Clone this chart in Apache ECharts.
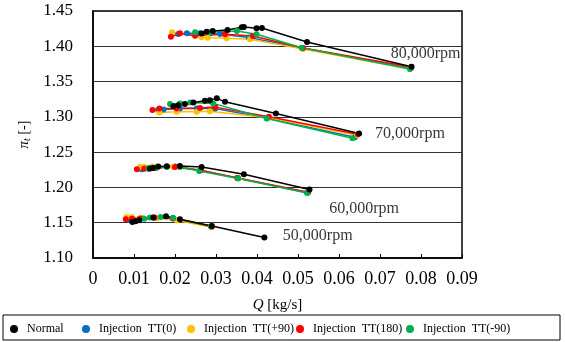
<!DOCTYPE html>
<html><head><meta charset="utf-8">
<script src="https://cdn.jsdelivr.net/npm/echarts@6/dist/echarts.min.js"></script>
<style>html,body{margin:0;padding:0;background:#fff;}#c{width:565px;height:342px;}</style>
</head><body><div id="c"></div>
<script>
const seriesNames = ['Normal', 'Injection TT(0)', 'Injection TT(+90)', 'Injection TT(180)', 'Injection TT(-90)'];
const seriesColors = ['#000000', '#0070C0', '#FFC000', '#FF0000', '#00B050'];
const xTicks = [0, 0.09, 0.01];
const yTicks = [1.10, 1.45, 0.05];

// [Q, pi_t] per speed group
const normal_80k = [[0.0265,1.418],[0.0277,1.4206],[0.0292,1.4216],[0.0328,1.423],[0.0363,1.4269],[0.0368,1.4273],[0.0399,1.4255],[0.0412,1.4259],[0.0522,1.406],[0.0777,1.371]];
const normal_70k = [[0.0196,1.3152],[0.0208,1.3166],[0.0224,1.3181],[0.0245,1.3205],[0.0273,1.3227],[0.0285,1.3237],[0.0302,1.3262],[0.0322,1.3213],[0.0446,1.3049],[0.0649,1.2765]];
const normal_60k = [[0.0139,1.2268],[0.0146,1.2277],[0.0159,1.2297],[0.018,1.2301],[0.0212,1.2305],[0.0265,1.2291],[0.0368,1.2188],[0.0528,1.1971]];
const normal_50k = [[0.0096,1.1511],[0.0104,1.1521],[0.0113,1.1535],[0.0147,1.1573],[0.0178,1.1592],[0.0212,1.155],[0.029,1.1454],[0.0418,1.129]];

const tt0_80k = [[0.0208,1.4174],[0.0229,1.4184],[0.0261,1.4184],[0.0285,1.418],[0.031,1.4175],[0.038,1.4125],[0.051,1.3975],[0.0775,1.369]];
const tt0_70k = [[0.0159,1.3096],[0.0172,1.3106],[0.0212,1.3117],[0.0253,1.312],[0.0298,1.312],[0.0424,1.2982],[0.0639,1.2712]];
const tt0_60k = [[0.0119,1.2259],[0.0135,1.2265],[0.0155,1.228],[0.02,1.2295],[0.0262,1.2245],[0.0352,1.2135],[0.0522,1.1925]];
const tt0_50k = [[0.009,1.1535],[0.0098,1.1545],[0.0115,1.1555],[0.015,1.157],[0.0195,1.156],[0.0288,1.1445]];

const ttp90_80k = [[0.0193,1.4198],[0.0265,1.4127],[0.028,1.4121],[0.0326,1.4113],[0.0383,1.4099],[0.0512,1.396],[0.0773,1.3677]];
const ttp90_70k = [[0.0162,1.3063],[0.0204,1.3071],[0.0253,1.3071],[0.0285,1.3081],[0.0427,1.2989],[0.0644,1.274]];
const ttp90_60k = [[0.0115,1.229],[0.0125,1.2293],[0.0145,1.2295],[0.0195,1.229],[0.026,1.224],[0.0355,1.213],[0.0524,1.1928]];
const ttp90_50k = [[0.0082,1.1582],[0.0095,1.158],[0.012,1.157],[0.0155,1.1565],[0.0205,1.153],[0.029,1.1435]];

const tt180_80k = [[0.019,1.4135],[0.0212,1.4184],[0.0249,1.415],[0.0322,1.417],[0.039,1.4145],[0.0512,1.3975],[0.0776,1.3706]];
const tt180_70k = [[0.0145,1.3096],[0.0162,1.312],[0.0204,1.3117],[0.0261,1.3124],[0.0298,1.3138],[0.0429,1.30],[0.0646,1.2755]];
const tt180_60k = [[0.0107,1.2259],[0.0125,1.2265],[0.015,1.2275],[0.02,1.229],[0.0262,1.2245],[0.0353,1.2135],[0.0525,1.1932]];
const tt180_50k = [[0.008,1.155],[0.0095,1.1555],[0.0115,1.156],[0.015,1.1575],[0.0195,1.1565],[0.0289,1.1445]];

const ttm90_80k = [[0.0249,1.4198],[0.0285,1.4198],[0.0351,1.4216],[0.0399,1.417],[0.0509,1.398],[0.0773,1.3677]];
const ttm90_70k = [[0.0188,1.3181],[0.0212,1.3191],[0.0237,1.3205],[0.0293,1.3191],[0.0424,1.2978],[0.0633,1.2698]];
const ttm90_60k = [[0.0135,1.227],[0.0155,1.2283],[0.018,1.229],[0.0212,1.229],[0.0259,1.2234],[0.0354,1.2127],[0.0523,1.1922]];
const ttm90_50k = [[0.0125,1.1555],[0.0139,1.1573],[0.0165,1.158],[0.0195,1.157],[0.0288,1.145]];

const rpmLabels = ['80,000rpm', '70,000rpm', '60,000rpm', '50,000rpm'];
const rpmLabelQ = [0.0726, 0.0688, 0.0576, 0.0463];
const rpmLabelPi = [1.3897, 1.2755, 1.1691, 1.1308];

const groupsBySeries = [
  [normal_80k, normal_70k, normal_60k, normal_50k],
  [tt0_80k, tt0_70k, tt0_60k, tt0_50k],
  [ttp90_80k, ttp90_70k, ttp90_60k, ttp90_50k],
  [tt180_80k, tt180_70k, tt180_60k, tt180_50k],
  [ttm90_80k, ttm90_70k, ttm90_60k, ttm90_50k]
];

const FONT = 'Liberation Serif';
const drawOrder = [1, 2, 3, 4, 0];
const series = [];
drawOrder.forEach(function (si) {
  groupsBySeries[si].forEach(function (g) {
    series.push({
      name: seriesNames[si], type: 'line', data: g,
      symbol: 'circle', symbolSize: 6, showSymbol: true,
      lineStyle: { width: 1.5, color: seriesColors[si] },
      itemStyle: { color: seriesColors[si] },
      emphasis: { disabled: true }, animation: false
    });
  });
});
series.push({
  name: 'rpm', type: 'scatter', symbolSize: 0, animation: false,
  data: rpmLabels.map(function (t, i) { return { value: [rpmLabelQ[i], rpmLabelPi[i]], name: t }; }),
  label: { show: true, position: 'right', distance: 0, formatter: '{b}', fontFamily: FONT, fontSize: 16, color: '#000' }
});

const legendLefts = [10, 82, 187, 296, 406];
const legends = seriesNames.map(function (n, i) {
  return {
    data: [n], left: legendLefts[i], top: 323, icon: 'circle',
    itemWidth: 16, itemHeight: 8, padding: 0,
    textStyle: { fontFamily: FONT, fontSize: 12, color: '#000' },
    formatter: function (s) { return s.replace(' ', '\u2002'); }
  };
});

const chart = echarts.init(document.getElementById('c'), null, { renderer: 'canvas' });
chart.setOption({
  animation: false,
  backgroundColor: '#fff',
  grid: { left: 93, top: 11, right: 103, bottom: 84, show: true, borderColor: '#000', borderWidth: 1.5 },
  legend: legends,
  graphic: [{ type: 'rect', shape: { x: 3, y: 315, width: 557, height: 25 }, style: { fill: 'none', stroke: '#000', lineWidth: 1 }, silent: true }],
  xAxis: {
    type: 'value', min: xTicks[0], max: xTicks[1], interval: xTicks[2],
    name: '{i|Q} [kg/s]', nameLocation: 'middle', nameGap: 40,
    nameTextStyle: { fontFamily: FONT, fontSize: 15, color: '#000', rich: { i: { fontFamily: FONT, fontSize: 15, fontStyle: 'italic', color: '#000' } } },
    axisLine: { show: true, lineStyle: { color: '#000', width: 1.5 } },
    axisTick: { show: true, inside: true, length: 4, lineStyle: { color: '#000' } },
    splitLine: { show: false },
    axisLabel: { fontFamily: FONT, fontSize: 18, color: '#000', margin: 12,
      formatter: function (v) { return v === 0 ? '0' : v.toFixed(2); } }
  },
  yAxis: {
    type: 'value', min: yTicks[0], max: yTicks[1], interval: yTicks[2],
    name: '{i|π}{s|t} [-]', nameLocation: 'middle', nameGap: 60,
    nameTextStyle: { fontFamily: FONT, fontSize: 14, color: '#000',
      rich: { i: { fontFamily: FONT, fontSize: 15, fontStyle: 'italic', color: '#000' },
              s: { fontFamily: FONT, fontSize: 10, fontStyle: 'italic', color: '#000', padding: [6, 0, 0, 0] } } },
    axisLine: { show: true, lineStyle: { color: '#000', width: 1.5 } },
    axisTick: { show: false },
    splitLine: { show: true, lineStyle: { color: '#333', width: 1 } },
    axisLabel: { fontFamily: FONT, fontSize: 17, color: '#000', margin: 20,
      formatter: function (v) { return v.toFixed(2); } }
  },
  series: series
});
</script></body></html>
